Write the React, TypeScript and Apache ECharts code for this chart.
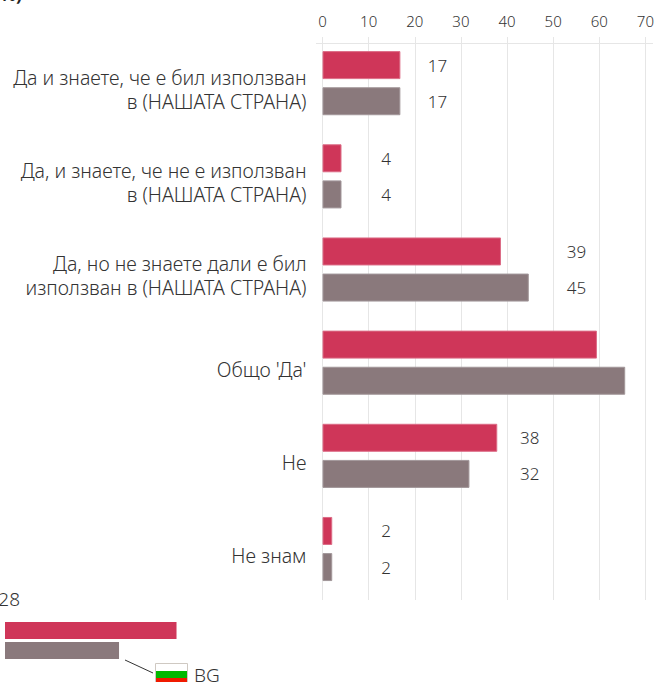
import React, { useEffect, useRef } from "react";
import * as echarts from "echarts";

const categories = [
  "Да и знаете, че е бил използван\nв (НАШАТА СТРАНА)",
  "Да, и знаете, че не е използван\nв (НАШАТА СТРАНА)",
  "Да, но не знаете дали е бил\nизползван в (НАШАТА СТРАНА)",
  "Общо 'Да'",
  "Не",
  "Не знам",
];
const redValues = [16.8, 4.1, 38.5, 59.2, 37.7, 2.1];
const grayValues = [16.8, 4.1, 44.5, 65.3, 31.7, 2.1];
const redLabels = ["17", "4", "39", "", "38", "2"];
const grayLabels = ["17", "4", "45", "", "32", "2"];
const labelAt = [24.8, 13.7, 54.8, 0, 44.7, 13.7];
const axisTicks = [0, 10, 20, 30, 40, 50, 60, 70];
const legendNames = ["EU28", "BG"];
const legendValues = [37, 24.6];

const FONT = "'Noto Sans', sans-serif";
const RED = "#cf3659";
const GRAY = "#8a797c";
const RED_EDGE = "#dc6c86";
const GRAY_EDGE = "#a2979a";
const TEXT = "#333333";
const PX_PER_UNIT = 4.636;

function items(values: number[], labels: string[]) {
  return values.map((v, i) => ({
    value: v,
    label: {
      show: labels[i] !== "",
      formatter: labels[i],
      position: [labelAt[i] * PX_PER_UNIT, "50%"],
      align: "center",
      verticalAlign: "middle",
      fontFamily: FONT,
      fontWeight: 300,
      fontSize: 17,
      color: TEXT,
    },
  }));
}

export default function App() {
  const ref = useRef<HTMLDivElement>(null);
  useEffect(() => {
    const chart = echarts.init(ref.current!, undefined, { renderer: "svg" });
    const valueAxis = { type: "value", min: 0, max: 70, interval: 10 };
    chart.setOption({
      animation: false,
      backgroundColor: "#ffffff",
      grid: [
        { left: 322.5, width: 324.5, top: 36.6, height: 559 },
        { left: 322.5, width: 324.5, top: 37, height: 563 },
        { left: 5, width: 324.5, top: 620.5, height: 40 },
        { left: 322.5, width: 324.5, top: 43, height: 559 },
      ],
      xAxis: [
        { ...valueAxis, gridIndex: 0, show: false },
        {
          ...valueAxis,
          gridIndex: 1,
          position: "top",
          axisLine: { show: false },
          axisTick: { show: false },
          axisLabel: {
            margin: 9,
            fontFamily: FONT,
            fontWeight: 300,
            fontSize: 15,
            color: TEXT,
            formatter: (v: number) => (axisTicks.includes(v) ? String(v) : ""),
          },
          splitLine: { show: true, lineStyle: { color: "#e6e6e6", width: 1 } },
        },
        { ...valueAxis, gridIndex: 2, show: false },
        { ...valueAxis, gridIndex: 3, show: false },
      ],
      yAxis: [
        { type: "category", gridIndex: 0, data: categories, inverse: true, show: false },
        { type: "category", gridIndex: 1, data: categories, show: false },
        { type: "category", gridIndex: 2, data: legendNames, inverse: true, show: false },
        {
          type: "category",
          gridIndex: 3,
          data: categories,
          inverse: true,
          axisLine: { show: false },
          axisTick: { show: false },
          splitLine: { show: false },
          axisLabel: {
            margin: 16,
            align: "right",
            fontFamily: FONT,
            fontWeight: 300,
            fontSize: 19.5,
            lineHeight: 24,
            color: TEXT,
          },
        },
      ],
      series: [
        {
          type: "bar",
          xAxisIndex: 0,
          yAxisIndex: 0,
          data: items(redValues, redLabels),
          barWidth: 28,
          barGap: "29%",
          itemStyle: { color: RED, borderColor: RED_EDGE, borderWidth: 1 },
          z: 3,
        },
        {
          type: "bar",
          xAxisIndex: 0,
          yAxisIndex: 0,
          data: items(grayValues, grayLabels),
          barWidth: 28,
          barGap: "29%",
          itemStyle: { color: GRAY, borderColor: GRAY_EDGE, borderWidth: 1 },
          z: 3,
        },
        {
          type: "bar",
          xAxisIndex: 2,
          yAxisIndex: 2,
          barWidth: 17,
          data: [
            { value: legendValues[0], itemStyle: { color: RED } },
            { value: legendValues[1], itemStyle: { color: GRAY } },
          ],
          silent: true,
        },
      ],
      graphic: [
        {
          type: "line",
          shape: { x1: 316, y1: 43.5, x2: 653, y2: 43.5 },
          style: { stroke: "#e6e6e6", lineWidth: 1 },
        },
        {
          type: "text",
          x: 20,
          y: 599,
          style: {
            text: "EU28",
            align: "right",
            verticalAlign: "middle",
            fontFamily: FONT,
            fontWeight: 300,
            fontSize: 19,
            fill: TEXT,
          },
        },
        {
          type: "text",
          x: 22,
          y: -6,
          style: {
            text: "(%)",
            align: "right",
            verticalAlign: "middle",
            fontFamily: FONT,
            fontWeight: 700,
            fontSize: 18,
            fill: "#222222",
          },
        },
        {
          type: "line",
          shape: { x1: 125, y1: 660, x2: 153, y2: 673 },
          style: { stroke: "#333333", lineWidth: 1 },
        },
        { type: "rect", shape: { x: 155.5, y: 663.5, width: 32, height: 22 }, style: { fill: "#ffffff", stroke: "#cfc9c2", lineWidth: 1 } },
        { type: "rect", shape: { x: 156, y: 671, width: 31, height: 7 }, style: { fill: "#00b800" } },
        { type: "rect", shape: { x: 156, y: 678, width: 31, height: 7 }, style: { fill: "#f01a00" } },
        {
          type: "text",
          x: 194,
          y: 675,
          style: {
            text: "BG",
            align: "left",
            verticalAlign: "middle",
            fontFamily: FONT,
            fontWeight: 300,
            fontSize: 19,
            fill: TEXT,
          },
        },
      ],
    });
    return () => chart.dispose();
  }, []);
  return (
    <div
      ref={ref}
      style={{ position: "fixed", left: 0, top: 0, width: 657, height: 682 }}
    />
  );
}
